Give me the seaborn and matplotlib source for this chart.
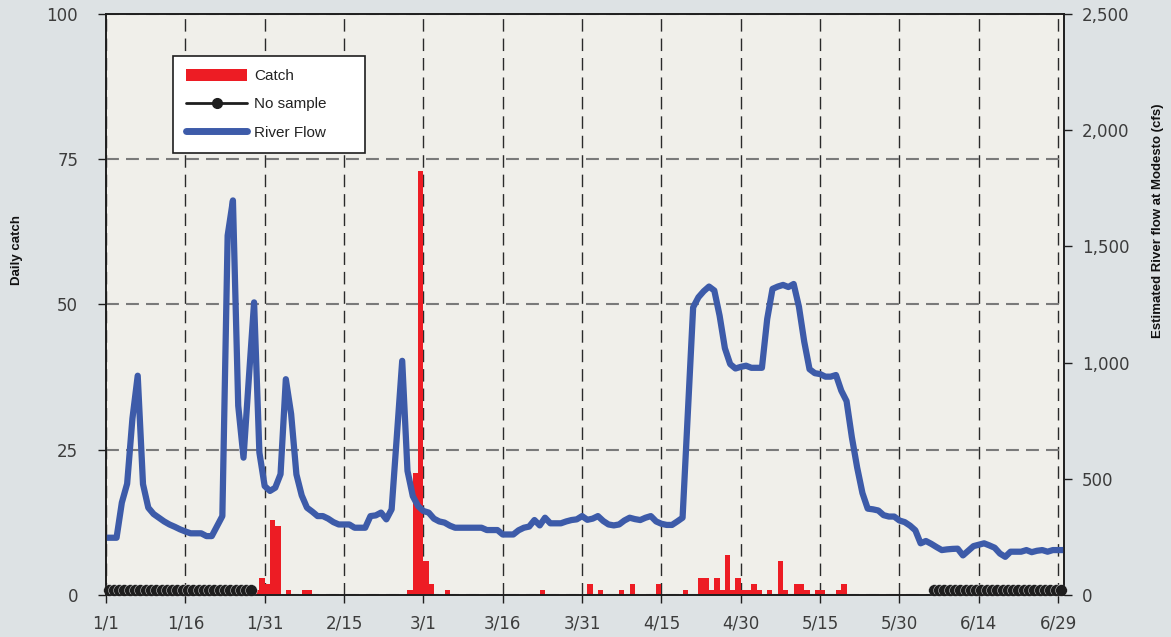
import numpy as np
import pandas as pd
import matplotlib
matplotlib.use("Agg")
import matplotlib.pyplot as plt
import seaborn as sns
from matplotlib.patches import Patch
from matplotlib.lines import Line2D
from matplotlib.ticker import FuncFormatter

# day index counted from 1/1 (leap year, so 3/1 is day 60)
catch_days = [28, 29, 30, 31, 32, 34, 37, 38,
              57, 58, 59, 60, 61, 64,
              82, 91, 93, 97, 99, 104, 109, 112, 113, 114, 115, 116, 117, 118,
              119, 120, 121, 122, 123, 125, 127, 128, 130, 131, 132, 134, 135,
              138, 139]
catch_vals = [1, 3, 2, 13, 12, 1, 1, 1,
              1, 21, 73, 6, 2, 1,
              1, 2, 1, 1, 2, 2, 1, 3, 3, 1, 3, 1, 7, 1,
              3, 1, 1, 2, 1, 1, 6, 1, 2, 2, 1, 1, 1,
              1, 2]

# estimated river flow at Modesto (cfs), one value per day from 1/1
flow_cfs = [
    248, 248, 248, 399, 480, 760, 944, 478, 377, 350,       # 0-9
    334, 318, 305, 295, 284, 275, 267, 267, 267, 255,       # 10-19
    255, 298, 341, 1546, 1697, 815, 592, 930, 1259, 614,    # 20-29
    470, 449, 463, 521, 929, 780, 520, 430, 377, 360,       # 30-39
    341, 341, 330, 315, 305, 305, 305, 291, 291, 291,       # 40-49
    341, 344, 356, 327, 370, 690, 1008, 535, 427, 384,      # 50-59
    363, 356, 330, 318, 313, 300, 291, 291, 291, 291,       # 60-69
    291, 291, 281, 281, 281, 262, 262, 262, 280, 291,       # 70-79
    296, 324, 301, 334, 310, 310, 310, 318, 324, 327,       # 80-89
    341, 325, 330, 341, 320, 305, 301, 305, 322, 334,       # 90-99
    328, 324, 334, 341, 318, 308, 303, 303, 318, 334,       # 100-109
    790, 1238, 1281, 1307, 1327, 1310, 1202, 1062, 994, 975,  # 110-119
    982, 987, 978, 978, 978, 1188, 1317, 1327, 1334, 1325,  # 120-129
    1338, 1240, 1090, 972, 955, 951, 940, 940, 947, 880,    # 130-139
    835, 680, 550, 440, 373, 370, 365, 345, 339, 339,       # 140-149
    322, 315, 300, 280, 224, 234, 222, 208, 195, 198,       # 150-159
    200, 201, 172, 192, 212, 218, 224, 215, 205, 180,       # 160-169
    166, 188, 188, 188, 195, 186, 192, 195, 188, 195,       # 170-179
    195, 195,                                               # 180-181
]

no_sample_days = list(range(0, 28)) + list(range(156, 181))
no_sample_level = 1

tick_days = [0, 15, 30, 45, 60, 75, 90, 105, 120, 135, 150, 165, 180]
tick_labels = ["1/1", "1/16", "1/31", "2/15", "3/1", "3/16", "3/31",
               "4/15", "4/30", "5/15", "5/30", "6/14", "6/29"]

RED = "#ed1c24"
BLUE = "#3d5ba9"
INK = "#1e1e1e"
TXT = "#3c3c3c"

sns.set_theme(style="white")
plt.rcParams["font.family"] = ["DejaVu Sans"]

fig = plt.figure(figsize=(11.71, 6.37), dpi=100, facecolor="#dde2e4")
ax = fig.add_axes([0.0905, 0.0652, 0.8181, 0.9136])
ax.set_facecolor("#f0efea")

# catch bars, one bin per day
catch = pd.DataFrame({"day": catch_days, "fish": catch_vals})
sns.histplot(data=catch, x="day", weights="fish", binwidth=1, binrange=(0, 182),
             color=RED, alpha=1, linewidth=0, ax=ax)

# no-sample markers, two runs
ns = pd.DataFrame({
    "day": np.array(no_sample_days) + 0.5,
    "catch": no_sample_level,
    "run": [0 if d < 90 else 1 for d in no_sample_days],
})
sns.lineplot(data=ns, x="day", y="catch", units="run", estimator=None,
             color=INK, lw=2, marker="o", markersize=8.5, mec="white", mew=0.3,
             legend=False, ax=ax, clip_on=False, zorder=4)

ax.set_xlim(0, 181.1)
ax.set_ylim(0, 100)
ax.set_xticks(tick_days, tick_labels)
ax.set_yticks([0, 25, 50, 75, 100])
ax.set_xlabel("")
ax.set_ylabel("")
ax.set_axisbelow(True)
ax.grid(True, axis="x", color="#2a2a2a", lw=1, linestyle=(0, (9, 5)))
ax.grid(True, axis="y", color="#7a7a7a", lw=1.5, linestyle=(0, (6.2, 3.4)))
ax.tick_params(axis="x", bottom=True, direction="out", length=6, width=1,
               color=INK, pad=8, labelsize=12, labelcolor=TXT)
ax.tick_params(axis="y", left=True, direction="out", length=6, width=1,
               color=INK, pad=14, labelsize=12, labelcolor=TXT)

# river flow on the secondary axis
ax2 = ax.twinx()
days = np.arange(len(flow_cfs))
sns.lineplot(x=days, y=flow_cfs, color=BLUE, lw=4.5, legend=False, ax=ax2)
ax2.set_ylim(0, 2500)
ax2.set_xlim(0, 181.1)
ax2.set_yticks(range(0, 2501, 500))
ax2.yaxis.set_major_formatter(FuncFormatter(lambda v, p: f"{int(v):,}"))
ax2.set_ylabel("")
ax2.grid(False)
ax2.tick_params(axis="y", right=True, direction="out", length=6, width=1,
                color=INK, pad=7, labelsize=12, labelcolor=TXT)

for a in (ax, ax2):
    for s in a.spines.values():
        s.set_visible(True)
        s.set_color(INK)
        s.set_linewidth(1.2)

fig.text(0.0149, 0.6083, "Daily catch", rotation=90, ha="center", va="center",
         fontsize=9.5, fontweight="bold", family="Liberation Sans", color="#111")
fig.text(0.9893, 0.653, "Estimated River flow at Modesto (cfs)", rotation=90,
         ha="center", va="center", fontsize=9.5, fontweight="bold",
         family="Liberation Sans", color="#111")

handles = [
    Patch(facecolor=RED, edgecolor="none", label="Catch"),
    Line2D([], [], color=INK, lw=2, marker="o", markersize=7, label="No sample"),
    Line2D([], [], color=BLUE, lw=5, label="River Flow"),
]
leg = ax2.legend(handles=handles, loc="upper left", mode="expand",
                 bbox_to_anchor=(173 / 1171, (637 - 152) / 637,
                                 192 / 1171, 96 / 637),
                 bbox_transform=fig.transFigure, borderaxespad=0,
                 frameon=True, fancybox=False, framealpha=1,
                 facecolor="white", edgecolor=INK,
                 prop={"family": "Liberation Sans", "size": 11},
                 handlelength=4.0, handleheight=0.8, labelspacing=0.92,
                 borderpad=0.85, handletextpad=0.45)
leg.get_frame().set_linewidth(1.2)
for t in leg.get_texts():
    t.set_color("#222")

fig.savefig("out.png", dpi=100, facecolor=fig.get_facecolor())
